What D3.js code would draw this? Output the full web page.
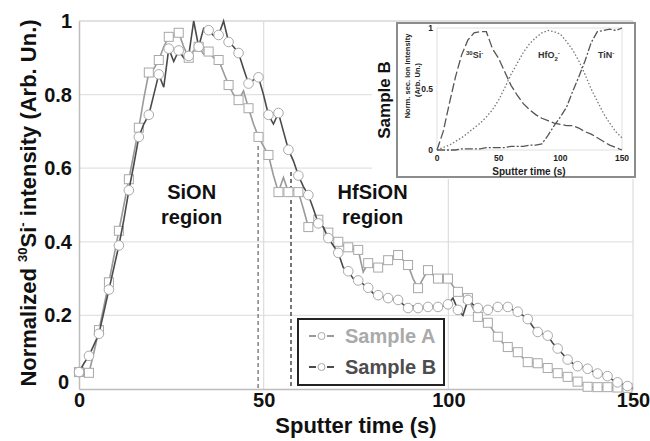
<!DOCTYPE html>
<html>
<head>
<meta charset="utf-8">
<script src="https://cdn.jsdelivr.net/npm/d3@7"></script>
<style>
  body { margin: 0; background: #fff; }
  svg { display: block; }
  text { font-family: "Liberation Sans", Arial, sans-serif; font-weight: bold; }
</style>
</head>
<body>
<div id="container"></div>
<script>
/**
 * DATA
 * */
// main profiles: one reading every 1.35 s, a marker on every second reading
const timeStep = 1.35;
const sampleA = [
  0.046, 0.045, 0.044, 0.10, 0.16, 0.225, 0.29, 0.36, 0.43, 0.50,
  0.57, 0.64, 0.71, 0.79, 0.86, 0.87, 0.894, 0.93, 0.957, 0.96,
  0.968, 0.93, 0.90, 0.92, 0.93, 0.91, 0.917, 0.90, 0.894, 0.86,
  0.826, 0.80, 0.785, 0.81, 0.763, 0.72, 0.685, 0.66, 0.636, 0.58,
  0.535, 0.575, 0.535, 0.54, 0.535, 0.49, 0.44, 0.45, 0.46, 0.44,
  0.425, 0.41, 0.40, 0.39, 0.385, 0.38, 0.378, 0.318, 0.342, 0.335,
  0.33, 0.34, 0.35, 0.36, 0.364, 0.35, 0.337, 0.30, 0.274, 0.30,
  0.323, 0.31, 0.30, 0.30, 0.30, 0.28, 0.264, 0.255, 0.247, 0.22,
  0.196, 0.19, 0.18, 0.16, 0.142, 0.125, 0.114, 0.107, 0.10, 0.085,
  0.073, 0.072, 0.07, 0.063, 0.057, 0.05, 0.043, 0.038, 0.033, 0.026,
  0.02, 0.012, 0.006, 0.005, 0.005, 0.005, 0.005, 0.004, 0.004, 0.003,
  0.003, 0.002
];
const sampleB = [
  0.046, 0.07, 0.09, 0.12, 0.15, 0.21, 0.27, 0.33, 0.39, 0.46,
  0.54, 0.61, 0.685, 0.72, 0.745, 0.80, 0.855, 0.82, 0.925, 0.89,
  0.92, 0.90, 0.905, 1.0, 0.93, 0.98, 0.975, 0.96, 0.962, 1.0,
  0.943, 0.93, 0.913, 0.87, 0.83, 0.84, 0.847, 0.80, 0.745, 0.72,
  0.75, 0.70, 0.65, 0.62, 0.58, 0.55, 0.527, 0.49, 0.45, 0.44,
  0.41, 0.39, 0.37, 0.33, 0.32, 0.30, 0.295, 0.285, 0.275, 0.26,
  0.255, 0.25, 0.247, 0.245, 0.242, 0.23, 0.22, 0.225, 0.22, 0.22,
  0.223, 0.225, 0.223, 0.225, 0.23, 0.247, 0.215, 0.20, 0.242, 0.23,
  0.22, 0.218, 0.215, 0.22, 0.223, 0.225, 0.223, 0.215, 0.21, 0.20,
  0.19, 0.17, 0.155, 0.15, 0.145, 0.125, 0.11, 0.095, 0.08, 0.07,
  0.062, 0.06, 0.055, 0.048, 0.042, 0.04, 0.035, 0.025, 0.018, 0.012,
  0.008, 0.002
];
const seriesNames = ["Sample A", "Sample B"];
const xTicks = [0, 50, 100, 150];
const yTicks = [0, 0.2, 0.4, 0.6, 0.8, 1];

// interface positions (s) and where the dashed marks start
const interfaceTimes = [48.5, 57.4];
const interfaceTops = [0.66, 0.59];
const regionNames = [["SiON", "region"], ["HfSiON", "region"]];
const regionTimes = [30.5, 79.5];

// inset (Sample B, all species), every 5 s
const insetTime = [0,5,10,15,20,25,30,35,40,45,50,55,60,65,70,75,80,85,90,95,100,105,110,115,120,125,130,135,140,145,150];
const insetSi = [0, 0.15, 0.38, 0.6, 0.78, 0.9, 0.96, 0.97, 0.97, 0.83, 0.75, 0.64, 0.53, 0.45, 0.38, 0.33,
  0.29, 0.26, 0.24, 0.22, 0.21, 0.2, 0.2, 0.18, 0.15, 0.13, 0.1, 0.07, 0.04, 0.02, 0.0];
const insetHfO = [0, 0.02, 0.04, 0.07, 0.1, 0.14, 0.18, 0.22, 0.27, 0.33, 0.41, 0.51, 0.62, 0.71, 0.8, 0.87,
  0.92, 0.96, 0.98, 0.97, 0.95, 0.89, 0.82, 0.73, 0.62, 0.5, 0.4, 0.3, 0.22, 0.15, 0.1];
const insetTiN = [0, 0, 0, 0, 0.01, 0.01, 0.01, 0.01, 0.02, 0.02, 0.02, 0.02, 0.03, 0.03, 0.03, 0.04,
  0.04, 0.05, 0.12, 0.2, 0.27, 0.35, 0.48, 0.6, 0.73, 0.88, 0.97, 0.98, 0.99, 0.98, 1.0];
const insetXTicks = [0, 50, 100, 150];
const insetYTicks = [0, 0.5, 1];

/**
 * SETUP
 * */
const width = 650, height = 441;
const colorA = "#9a9a9a", colorB = "#4a4a4a", markerStroke = "#a8a8a8";

const svg = d3.select("#container").append("svg")
  .attr("width", width).attr("height", height);

const x = d3.scaleLinear().domain([0, 150]).range([79, 633]);
const y = d3.scaleLinear().domain([0, 1]).range([389, 21]);

// grid
svg.append("g").selectAll("line.hg")
  .data(yTicks.filter(d => d > 0))
  .join("line")
  .attr("x1", x(0)).attr("x2", x(150))
  .attr("y1", d => y(d)).attr("y2", d => y(d))
  .attr("stroke", d => d === 1 ? "#c4c4c4" : "#e2e2e2").attr("stroke-width", 1.2);
svg.append("g").selectAll("line.vg")
  .data(xTicks.filter(d => d > 0))
  .join("line")
  .attr("x1", d => x(d)).attr("x2", d => x(d))
  .attr("y1", y(0)).attr("y2", y(1))
  .attr("stroke", "#dcdcdc").attr("stroke-width", 1.2);

// axes
const yAxis = svg.append("g")
  .attr("transform", `translate(${x(0)},0)`)
  .call(d3.axisLeft(y).tickValues(yTicks).tickSize(0).tickPadding(7).tickFormat(d => d));
const xAxis = svg.append("g")
  .attr("transform", `translate(0,${y(0)})`)
  .call(d3.axisBottom(x).tickValues(xTicks).tickSize(0).tickPadding(4).tickFormat(d => d));
[xAxis, yAxis].forEach(a => {
  a.select(".domain").attr("stroke", "#bdbdbd").attr("stroke-width", 1.5);
  a.selectAll("text").attr("font-size", 20).attr("font-family", "Liberation Sans, Arial, sans-serif")
    .attr("font-weight", "bold").attr("fill", "#111");
});
yAxis.selectAll(".tick").filter(d => d === 0).select("text").attr("dy", "-0.05em").attr("x", -10);

// interface dashed lines
svg.append("g").selectAll("line")
  .data(interfaceTimes)
  .join("line")
  .attr("x1", d => x(d)).attr("x2", d => x(d))
  .attr("y1", (d, i) => y(interfaceTops[i])).attr("y2", y(0))
  .attr("stroke", (d, i) => i === 0 ? "#8a8a8a" : "#555")
  .attr("stroke-width", 1.6)
  .attr("stroke-dasharray", "4,3");

// series
const line = d3.line().x(d => x(d[0])).y(d => y(d[1]));
const seriesA = sampleA.map((v, i) => [i * timeStep, v]);
const seriesB = sampleB.map((v, i) => [i * timeStep, v]);

svg.append("path").datum(seriesA)
  .attr("d", line).attr("fill", "none").attr("stroke", colorA).attr("stroke-width", 1.6);
svg.append("g").selectAll("rect")
  .data(seriesA.filter((d, i) => i % 2 === 0))
  .join("rect")
  .attr("x", d => x(d[0]) - 4.5).attr("y", d => y(d[1]) - 4.5)
  .attr("width", 9).attr("height", 9)
  .attr("fill", "#fff").attr("stroke", markerStroke).attr("stroke-width", 1);

svg.append("path").datum(seriesB)
  .attr("d", line).attr("fill", "none").attr("stroke", colorB).attr("stroke-width", 1.6);
svg.append("g").selectAll("circle")
  .data(seriesB.filter((d, i) => i % 2 === 0))
  .join("circle")
  .attr("cx", d => x(d[0])).attr("cy", d => y(d[1])).attr("r", 4.8)
  .attr("fill", "#fff").attr("stroke", markerStroke).attr("stroke-width", 1);

// region labels
regionNames.forEach((lines, i) => {
  svg.append("text")
    .attr("x", x(regionTimes[i])).attr("text-anchor", "middle")
    .attr("font-size", 20).attr("fill", "#111")
    .selectAll("tspan").data(lines).join("tspan")
    .attr("x", x(regionTimes[i]))
    .attr("y", (d, j) => 199 + j * 25)
    .text(d => d);
});

// legend
const legend = svg.append("g").attr("transform", "translate(298,319)");
legend.append("rect").attr("width", 146).attr("height", 66)
  .attr("fill", "#fff").attr("stroke", "#222").attr("stroke-width", 2);
seriesNames.forEach((name, i) => {
  const col = i === 0 ? colorA : colorB;
  const txt = i === 0 ? "#aaaaaa" : "#4d4d4d";
  const g = legend.append("g").attr("transform", `translate(0,${17 + i * 31})`);
  g.append("line").attr("x1", 11).attr("x2", 18).attr("stroke", col).attr("stroke-width", 2);
  g.append("line").attr("x1", 29).attr("x2", 36).attr("stroke", col).attr("stroke-width", 2);
  g.append("circle").attr("cx", 23.5).attr("r", 3.5).attr("fill", "#fff").attr("stroke", markerStroke);
  g.append("text").attr("x", 47).attr("y", 7).attr("font-size", 20).attr("fill", txt).text(name);
});

// axis titles
svg.append("text")
  .attr("x", 356).attr("y", 433).attr("text-anchor", "middle")
  .attr("font-size", 22).attr("fill", "#111")
  .text("Sputter time (s)");
const yTitle = svg.append("text")
  .attr("transform", "translate(36,203) rotate(-90)")
  .attr("text-anchor", "middle").attr("font-size", 22).attr("fill", "#111");
yTitle.append("tspan").text("Normalized ");
yTitle.append("tspan").attr("font-size", 13).attr("dy", -9).text("30");
yTitle.append("tspan").attr("dy", 9).text("Si");
yTitle.append("tspan").attr("font-size", 13).attr("dy", -9).text("-");
yTitle.append("tspan").attr("dy", 9).text(" intensity (Arb. Un.)");

/**
 * INSET
 * */
const inset = svg.append("g");
inset.append("rect").attr("x", 372).attr("y", 23).attr("width", 264).attr("height", 156).attr("fill", "#fff");
inset.append("rect").attr("x", 397).attr("y", 23).attr("width", 238).attr("height", 154)
  .attr("fill", "#fff").attr("stroke", "#8c8c8c").attr("stroke-width", 2);

const ix = d3.scaleLinear().domain([0, 150]).range([437, 622]);
const iy = d3.scaleLinear().domain([0, 1]).range([150, 28]);

inset.append("rect").attr("x", ix(0)).attr("y", iy(1))
  .attr("width", ix(150) - ix(0)).attr("height", iy(0) - iy(1))
  .attr("fill", "none").attr("stroke", "#d8d8d8").attr("stroke-width", 0.8);

inset.append("g").selectAll("text")
  .data(insetXTicks).join("text")
  .attr("x", d => ix(d)).attr("y", 161).attr("text-anchor", "middle")
  .attr("font-size", 8.5).attr("fill", "#222").text(d => d);
inset.append("g").selectAll("text")
  .data(insetYTicks).join("text")
  .attr("x", 433).attr("y", d => iy(d) + 3).attr("text-anchor", "end")
  .attr("font-size", 8.5).attr("fill", "#222").text(d => d);

const iline = d3.line().x(d => ix(d[0])).y(d => iy(d[1]));
const insetSeries = [
  { values: insetSi, dash: "9,3", color: "#555" },
  { values: insetHfO, dash: "1.5,2", color: "#777" },
  { values: insetTiN, dash: "8,2,2,2", color: "#555" }
];
insetSeries.forEach(s => {
  inset.append("path")
    .datum(insetTime.map((t, i) => [t, s.values[i]]))
    .attr("d", iline).attr("fill", "none")
    .attr("stroke", s.color).attr("stroke-width", 1.3)
    .attr("stroke-dasharray", s.dash);
});

// species labels
const siLabel = inset.append("text").attr("x", 466).attr("y", 58).attr("font-size", 9).attr("fill", "#333");
siLabel.append("tspan").attr("font-size", 6).attr("dy", -3).text("30");
siLabel.append("tspan").attr("dy", 3).text("Si");
siLabel.append("tspan").attr("font-size", 6).attr("dy", -3).text("-");
const hfLabel = inset.append("text").attr("x", 538).attr("y", 58).attr("font-size", 9).attr("fill", "#333");
hfLabel.append("tspan").text("HfO");
hfLabel.append("tspan").attr("font-size", 6).attr("dy", 3).text("2");
hfLabel.append("tspan").attr("font-size", 6).attr("dy", -6).text("-");
const tiLabel = inset.append("text").attr("x", 598).attr("y", 58).attr("font-size", 9).attr("fill", "#333");
tiLabel.append("tspan").text("TiN");
tiLabel.append("tspan").attr("font-size", 6).attr("dy", -3).text("-");

inset.append("text")
  .attr("x", 529).attr("y", 175).attr("text-anchor", "middle")
  .attr("font-size", 10).attr("fill", "#222").text("Sputter time (s)");
inset.append("text")
  .attr("transform", "translate(410,76) rotate(-90)").attr("text-anchor", "middle")
  .attr("font-size", 7.5).attr("fill", "#222").text("Norm. sec. ion intensity");
inset.append("text")
  .attr("transform", "translate(420,80) rotate(-90)").attr("text-anchor", "middle")
  .attr("font-size", 7.5).attr("fill", "#222").text("(Arb. Un.)");
inset.append("text")
  .attr("transform", "translate(390,100) rotate(-90)").attr("text-anchor", "middle")
  .attr("font-size", 17).attr("fill", "#111").text("Sample B");
</script>
</body>
</html>
